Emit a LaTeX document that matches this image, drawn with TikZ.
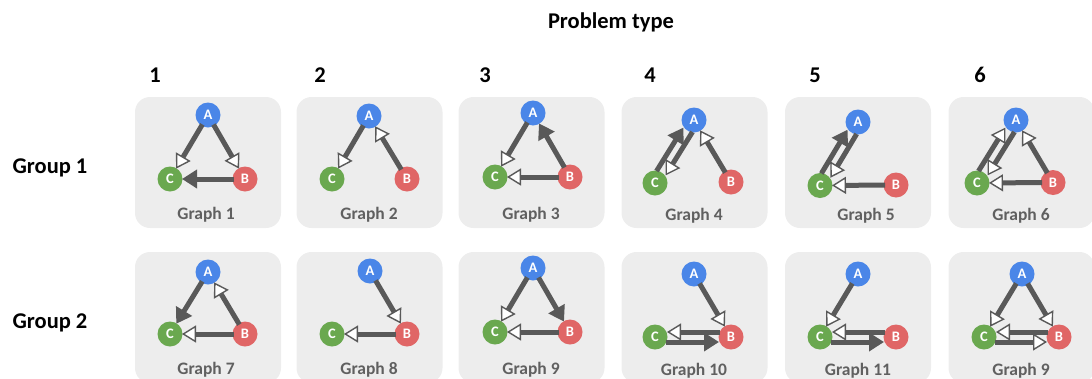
\documentclass[tikz,border=0pt]{standalone}
\usepackage{fontspec}
\setmainfont{Carlito}
\usetikzlibrary{arrows.meta,calc}
\definecolor{nblue}{HTML}{4A86E8}
\definecolor{ngreen}{HTML}{6AA84F}
\definecolor{nred}{HTML}{E06666}
\definecolor{edgec}{HTML}{595959}
\definecolor{boxc}{HTML}{EDEDED}
\definecolor{labc}{HTML}{606060}
\tikzset{
  panel/.style={fill=boxc, draw=none, rounded corners=15pt, minimum width=146pt, minimum height=131pt, inner sep=0pt},
  vert/.style={circle, minimum size=25pt, inner sep=0pt, text=white, font=\bfseries\fontsize{14.5}{14.5}\selectfont},
  na/.style={vert, fill=nblue},
  nb/.style={vert, fill=nred},
  nc/.style={vert, fill=ngreen},
  glabel/.style={text=labc, font=\bfseries\fontsize{17.5}{17.5}\selectfont},
  head/.style={text=black, font=\bfseries\fontsize{22.5}{22.5}\selectfont},
  edge/.style={line width=5pt, draw=edgec, shorten <=11pt, shorten >=12pt},
  op/.style={edge, -{Triangle[length=14pt,width=17pt,fill=white,line width=1.4pt]}},
  fl/.style={edge, -{Triangle[length=15pt,width=18pt]}},
}
\newcommand{\pp}[3]{($(#1)!5pt!#3:(#2)$)}
\begin{document}
\begin{tikzpicture}[x=1pt,y=-1pt]
\useasboundingbox (0,0) rectangle (1092,378);
% headers
\node[head] (title) at (611,22) {Problem type};
\node[head] (h1) at (155,75) {1};
\node[head] (h2) at (320,75) {2};
\node[head] (h3) at (485,75) {3};
\node[head] (h4) at (650,75) {4};
\node[head] (h5) at (815,75) {5};
\node[head] (h6) at (980,75) {6};
\node[head] (g1) at (50,168) {Group 1};
\node[head] (g2) at (50,323) {Group 2};
% panels
\node[panel] (p1) at (208,162.5) {};
\node[panel] (p2) at (369.5,162.5) {};
\node[panel] (p3) at (531.5,162.5) {};
\node[panel] (p4) at (694.5,162.5) {};
\node[panel] (p5) at (858,162.5) {};
\node[panel] (p6) at (1021.5,162.5) {};
\node[panel] (p7) at (208,317.5) {};
\node[panel] (p8) at (369.5,317.5) {};
\node[panel] (p9) at (531.5,317.5) {};
\node[panel] (p10) at (694.5,317.5) {};
\node[panel] (p11) at (858,317.5) {};
\node[panel] (p12) at (1021.5,317.5) {};
% labels
\node[glabel] (l1) at (206,215) {Graph 1};
\node[glabel] (l2) at (369,215) {Graph 2};
\node[glabel] (l3) at (531,215) {Graph 3};
\node[glabel] (l4) at (694,216) {Graph 4};
\node[glabel] (l5) at (866,216) {Graph 5};
\node[glabel] (l6) at (1021,216) {Graph 6};
\node[glabel] (l7) at (206,370) {Graph 7};
\node[glabel] (l8) at (369,370) {Graph 8};
\node[glabel] (l9) at (531,370) {Graph 9};
\node[glabel] (l10) at (694,371) {Graph 10};
\node[glabel] (l11) at (858,371) {Graph 11};
\node[glabel] (l12) at (1021,371) {Graph 9};
% nodes row 1
\node[na] (a1) at (208,115) {A}; \node[nc] (c1) at (170,179) {C}; \node[nb] (b1) at (245,179) {B};
\node[na] (a2) at (369,116) {A}; \node[nc] (c2) at (332,179) {C}; \node[nb] (b2) at (407,179) {B};
\node[na] (a3) at (533,113) {A}; \node[nc] (c3) at (495,177) {C}; \node[nb] (b3) at (570,177) {B};
\node[na] (a4) at (694,120) {A}; \node[nc] (c4) at (655,183) {C}; \node[nb] (b4) at (731,182) {B};
\node[na] (a5) at (858,122) {A}; \node[nc] (c5) at (820,185.5) {C}; \node[nb] (b5) at (896,185) {B};
\node[na] (a6) at (1016,120) {A}; \node[nc] (c6) at (977,183) {C}; \node[nb] (b6) at (1053,182.5) {B};
% nodes row 2
\node[na] (a7) at (208,272) {A}; \node[nc] (c7) at (170,334) {C}; \node[nb] (b7) at (245,334) {B};
\node[na] (a8) at (370,271) {A}; \node[nc] (c8) at (332,334) {C}; \node[nb] (b8) at (407,334) {B};
\node[na] (a9) at (533,268) {A}; \node[nc] (c9) at (495,332) {C}; \node[nb] (b9) at (570,332) {B};
\node[na] (a10) at (694,274) {A}; \node[nc] (c10) at (655,337) {C}; \node[nb] (b10) at (731,337) {B};
\node[na] (a11) at (858,274) {A}; \node[nc] (c11) at (820,337) {C}; \node[nb] (b11) at (896,337) {B};
\node[na] (a12) at (1022,274) {A}; \node[nc] (c12) at (984,337) {C}; \node[nb] (b12) at (1059,337) {B};
% edges
% G1
\draw[op] (a1.center) -- (c1.center);
\draw[op] (a1.center) -- (b1.center);
\draw[fl] (b1.center) -- (c1.center);
% G2
\draw[op] (a2.center) -- (c2.center);
\draw[op] (b2.center) -- (a2.center);
% G3
\draw[op] (a3.center) -- (c3.center);
\draw[fl] (b3.center) -- (a3.center);
\draw[op] (b3.center) -- (c3.center);
% G4
\draw[fl] \pp{c4}{a4}{90} -- \pp{a4}{c4}{-90};
\draw[op] \pp{a4}{c4}{90} -- \pp{c4}{a4}{-90};
\draw[op] (b4.center) -- (a4.center);
% G5
\draw[fl] \pp{c5}{a5}{90} -- \pp{a5}{c5}{-90};
\draw[op] \pp{a5}{c5}{90} -- \pp{c5}{a5}{-90};
\draw[op] (b5.center) -- (c5.center);
% G6
\draw[op] \pp{c6}{a6}{90} -- \pp{a6}{c6}{-90};
\draw[op] \pp{a6}{c6}{90} -- \pp{c6}{a6}{-90};
\draw[op] (b6.center) -- (a6.center);
\draw[op] (b6.center) -- (c6.center);
% G7
\draw[fl] (a7.center) -- (c7.center);
\draw[op] (b7.center) -- (a7.center);
\draw[op] (b7.center) -- (c7.center);
% G8
\draw[op] (a8.center) -- (b8.center);
\draw[op] (b8.center) -- (c8.center);
% G9
\draw[op] (a9.center) -- (c9.center);
\draw[fl] (a9.center) -- (b9.center);
\draw[op] (b9.center) -- (c9.center);
% G10
\draw[op] (a10.center) -- (b10.center);
\draw[op] \pp{b10}{c10}{-90} -- \pp{c10}{b10}{90};
\draw[fl] \pp{c10}{b10}{-90} -- \pp{b10}{c10}{90};
% G11
\draw[op] (a11.center) -- (c11.center);
\draw[op] \pp{b11}{c11}{-90} -- \pp{c11}{b11}{90};
\draw[fl] \pp{c11}{b11}{-90} -- \pp{b11}{c11}{90};
% G9 (col 6)
\draw[op] (a12.center) -- (c12.center);
\draw[op] (a12.center) -- (b12.center);
\draw[op] \pp{b12}{c12}{-90} -- \pp{c12}{b12}{90};
\draw[op] \pp{c12}{b12}{-90} -- \pp{b12}{c12}{90};
\end{tikzpicture}
\end{document}
